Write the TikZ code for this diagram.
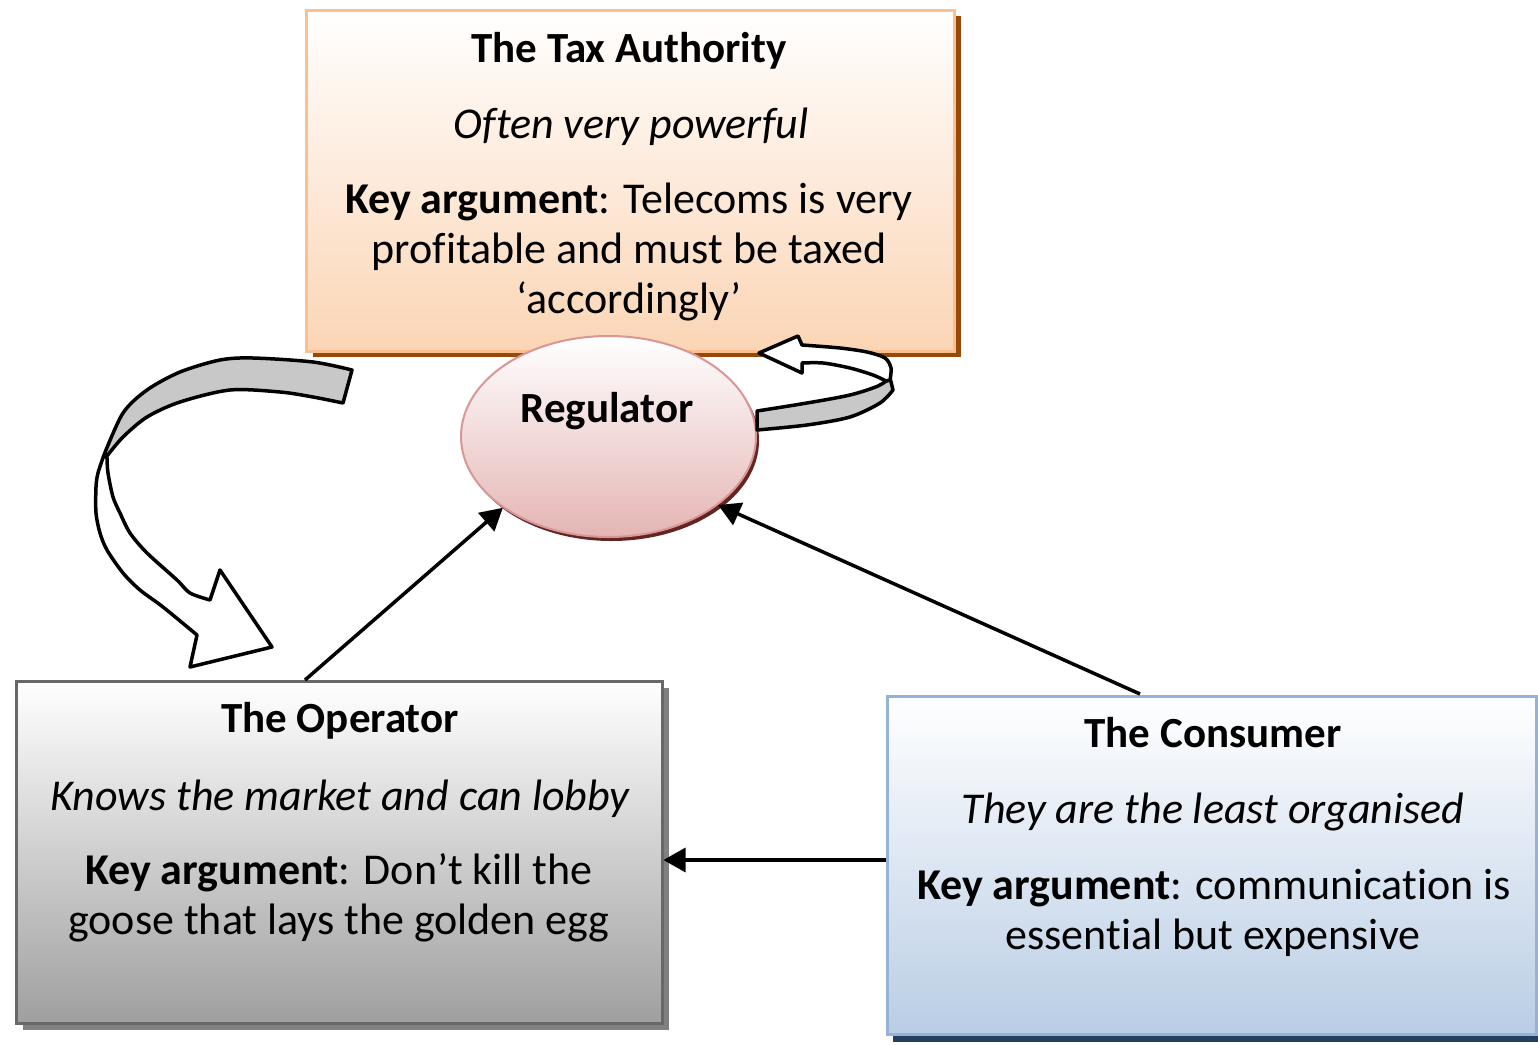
\documentclass[tikz,border=0pt]{standalone}
\usepackage{fontspec}
\setmainfont[Ligatures={NoCommon,NoContextual},Contextuals=NoAlternate]{Carlito}
\usetikzlibrary{shadows,arrows.meta,shapes.geometric}
\definecolor{taxfill}{HTML}{FBD5B5}
\definecolor{taxline}{HTML}{FAC090}
\definecolor{taxshadow}{HTML}{984807}
\definecolor{regfill}{HTML}{E4B5B4}
\definecolor{regline}{HTML}{D99694}
\definecolor{regshadow}{HTML}{632523}
\definecolor{opfill}{HTML}{9F9F9F}
\definecolor{opline}{HTML}{686868}
\definecolor{opshadow}{HTML}{808080}
\definecolor{confill}{HTML}{B9CDE5}
\definecolor{conline}{HTML}{95B3D7}
\definecolor{conshadow}{HTML}{243F60}
\definecolor{bandgray}{HTML}{C8C8C8}
\begin{document}
\begin{tikzpicture}[x=1pt,y=-1pt,
  box/.style={rectangle, line width=3pt, inner sep=0pt},
  txt/.style={anchor=base, inner sep=0pt, font=\fontsize{44}{50}\selectfont},
  ttl/.style={anchor=base, inner sep=0pt, font=\fontsize{43}{50}\selectfont\bfseries},
  itl/.style={anchor=base, inner sep=0pt, font=\fontsize{44}{50}\selectfont\itshape},
  link/.style={line width=3.5pt, -{Triangle[length=22pt,width=24pt]}},
  band/.style={line width=3.5pt, line join=round}
]
\useasboundingbox (0,0) rectangle (1538,1044);

% Tax authority
\node[box, draw=taxline, top color=white, bottom color=taxfill,
  minimum width=648pt, minimum height=341pt,
  drop shadow={shadow xshift=6pt, shadow yshift=-5pt, fill=taxshadow, opacity=1}]
  (tax) at (630.5,181) {};
\node[ttl] (taxT) at (629,62) {The Tax Authority};
\node[itl] (taxS) at (631,138) {Often very powerful};
\node[txt] (taxK1) at (629,213) {\textbf{Key argument}: Telecoms is very};
\node[txt] (taxK2) at (629,263) {profitable and must be taxed};
\node[txt] (taxK3) at (629,313) {‘accordingly’};

% Operator
\node[box, draw=opline, top color=white, bottom color=opfill,
  minimum width=646pt, minimum height=342pt,
  drop shadow={shadow xshift=7pt, shadow yshift=-6pt, fill=opshadow, opacity=1}]
  (op) at (339,852.5) {};
\node[ttl] (opT) at (340,732) {The Operator};
\node[itl] (opS) at (340,810) {Knows the market and can lobby};
\node[txt] (opK1) at (339,884) {\textbf{Key argument}: Don’t kill the};
\node[txt] (opK2) at (339,934) {goose that lays the golden egg};

% Consumer
\node[box, draw=conline, top color=white, bottom color=confill,
  minimum width=649pt, minimum height=338pt,
  drop shadow={shadow xshift=6pt, shadow yshift=-7pt, fill=conshadow, opacity=1}]
  (con) at (1211.5,865.5) {};
\node[ttl] (conT) at (1213,747) {The Consumer};
\node[itl] (conS) at (1213,823) {They are the least organised};
\node[txt] (conK1) at (1214,899) {\textbf{Key argument}: communicat\kern0pt ion is};
\node[txt] (conK2) at (1213,949) {essent\kern0pt ial but expensive};

% Regulator
\node[ellipse, draw=regline, line width=2pt, top color=white, bottom color=regfill,
  minimum width=295pt, minimum height=201pt, inner sep=0pt,
  drop shadow={shadow xshift=3pt, shadow yshift=-4pt, fill=regshadow, opacity=1}]
  (reg) at (608.5,436.5) {};
\node[ttl] (regT) at (607,422) {Regulator};

% straight connectors
\coordinate (opTop) at (305,680);
\draw[link] (opTop) -- (reg.214);
\coordinate (conTop) at (1140,694);
\draw[link] (conTop) -- (reg.328);
\coordinate (conLeft) at (886,860);
\draw[link] (conLeft) -- (conLeft -| op.east);

% left curved block arrow
\draw[band, fill=bandgray]
  plot[smooth] coordinates {(352,370) (313,362) (253,358) (220,360) (180,372) (147,390) (123,413) (104,455)}
  -- plot[smooth] coordinates {(107,456) (123,437) (147,417) (180,402) (230,390) (280,392) (313,397) (343,403)}
  -- cycle;
\draw[band, fill=white]
  plot[smooth] coordinates {(104,455) (98,473) (96,487) (96,513) (100,533) (107,550) (123,573) (140,590) (163,607) (197,635)}
  -- (190,667) -- (272,647) -- (220,570) --
  plot[smooth] coordinates {(210,600) (190,593) (177,580) (147,553) (130,533) (120,513) (113,497) (108,473) (107,458)}
  -- cycle;

% right small curved block arrow
\draw[band, fill=bandgray]
  plot[smooth] coordinates {(757,411) (807,403) (850,395) (878,386) (890,378)}
  -- plot[smooth] coordinates {(893,390) (880,403) (850,417) (807,425) (757,430)}
  -- cycle;
\draw[band, fill=white]
  plot[smooth] coordinates {(890,380) (891,368) (885,358) (867,352) (840,348) (802,345)}
  -- (798,336) -- (759,353) -- (802,373) --
  plot[smooth] coordinates {(802,363) (823,363) (850,368) (873,375) (886,381)}
  -- cycle;
\end{tikzpicture}
\end{document}
